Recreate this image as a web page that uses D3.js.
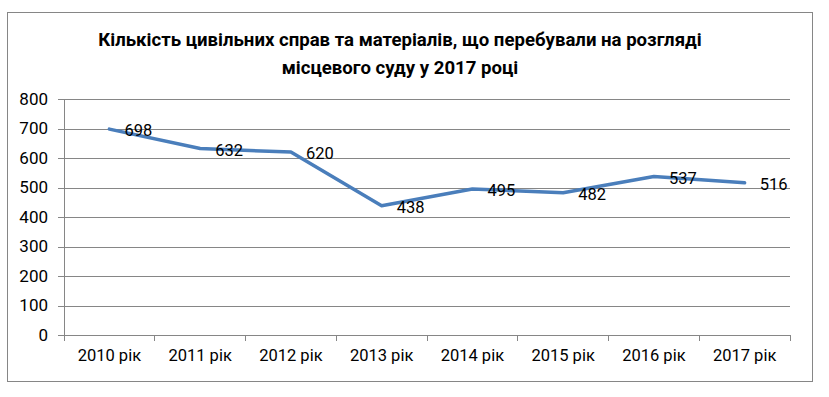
<!DOCTYPE html>
<html>
<head>
<meta charset="utf-8">
<script src="https://cdn.jsdelivr.net/npm/d3@7"></script>
<style>
  html, body { margin: 0; padding: 0; background: #fff; }
  svg { display: block; font-family: Roboto, "Noto Sans", sans-serif; }
</style>
</head>
<body>
<div id="chart"></div>
<script>
// ── Data ─────────────────────────────────────────────────────────────────
const titleLines = [
    'Кількість цивільних справ та матеріалів, що перебували на розгляді',
    'місцевого суду у 2017 році'
];
const years  = ['2010 рік', '2011 рік', '2012 рік', '2013 рік', '2014 рік', '2015 рік', '2016 рік', '2017 рік'];
const values = [698, 632, 620, 438, 495, 482, 537, 516];
const yTicks = [0, 100, 200, 300, 400, 500, 600, 700, 800];

const data = years.map((y, i) => ({ year: y, value: values[i] }));

// ── Layout ────────────────────────────────────────────────────────────────
const width = 829, height = 397;
const plot = { left: 64, right: 790, top: 99, bottom: 335 };

const svg = d3.select('#chart').append('svg')
    .attr('width', width).attr('height', height);

// outer frame
svg.append('rect')
    .attr('x', 7.5).attr('y', 12.5)
    .attr('width', 805).attr('height', 369)
    .attr('fill', '#fff').attr('stroke', '#868686').attr('stroke-width', 1);

// ── Scales ────────────────────────────────────────────────────────────────
const xScale = d3.scaleBand().domain(years).range([plot.left, plot.right]);
const yScale = d3.scaleLinear().domain([0, 800]).range([plot.bottom, plot.top]);
const xc = d => xScale(d) + xScale.bandwidth() / 2;

// ── Title ─────────────────────────────────────────────────────────────────
svg.append('g').selectAll('text')
    .data(titleLines)
    .join('text')
    .attr('x', 400).attr('y', (d, i) => 46 + i * 28)
    .attr('text-anchor', 'middle')
    .style('font-size', '18.6px').style('font-weight', '700').style('fill', '#000')
    .text(d => d);

// ── Grid ──────────────────────────────────────────────────────────────────
svg.append('g')
    .attr('transform', 'translate(' + plot.left + ',0)')
    .call(d3.axisLeft(yScale).tickValues(yTicks).tickSize(-(plot.right - plot.left)).tickFormat(''))
    .call(g => g.select('.domain').remove())
    .selectAll('line').attr('stroke', '#868686').attr('shape-rendering', 'crispEdges');

// ── Y axis ────────────────────────────────────────────────────────────────
const yAxis = svg.append('g')
    .attr('transform', 'translate(' + plot.left + ',0)')
    .call(d3.axisLeft(yScale).tickValues(yTicks).tickSize(6).tickSizeOuter(0).tickPadding(10));
yAxis.select('.domain').attr('stroke', '#868686').attr('shape-rendering', 'crispEdges');
yAxis.selectAll('line').attr('stroke', '#868686').attr('shape-rendering', 'crispEdges');
yAxis.selectAll('text').style('font-size', '17px').style('fill', '#000')
    .style('font-family', 'Roboto, sans-serif');

// ── X axis ────────────────────────────────────────────────────────────────
const xAxis = svg.append('g')
    .attr('transform', 'translate(0,' + plot.bottom + ')')
    .call(d3.axisBottom(xScale).tickSize(0).tickSizeOuter(0).tickPadding(14));
xAxis.select('.domain').attr('stroke', '#868686').attr('shape-rendering', 'crispEdges');
xAxis.selectAll('text').style('font-size', '16.5px').style('fill', '#000')
    .style('font-family', 'Roboto, sans-serif');

// band separators below axis
svg.append('g').selectAll('line')
    .data(years.concat(['__end']))
    .join('line')
    .attr('x1', (d, i) => i < years.length ? xScale(d) : plot.right)
    .attr('x2', (d, i) => i < years.length ? xScale(d) : plot.right)
    .attr('y1', plot.bottom).attr('y2', plot.bottom + 6)
    .attr('stroke', '#868686').attr('shape-rendering', 'crispEdges');

// ── Line ──────────────────────────────────────────────────────────────────
const line = d3.line().x(d => xc(d.year)).y(d => yScale(d.value));
svg.append('path')
    .datum(data)
    .attr('d', line)
    .attr('fill', 'none')
    .attr('stroke', '#4a7ebb')
    .attr('stroke-width', 3.5)
    .attr('stroke-linejoin', 'round')
    .attr('stroke-linecap', 'round');

// ── Value labels ──────────────────────────────────────────────────────────
svg.append('g').selectAll('text')
    .data(data)
    .join('text')
    .attr('x', d => xc(d.year) + 15)
    .attr('y', d => yScale(d.value) + 7)
    .style('font-size', '16.5px').style('fill', '#000')
    .text(d => d.value);
</script>
</body>
</html>
